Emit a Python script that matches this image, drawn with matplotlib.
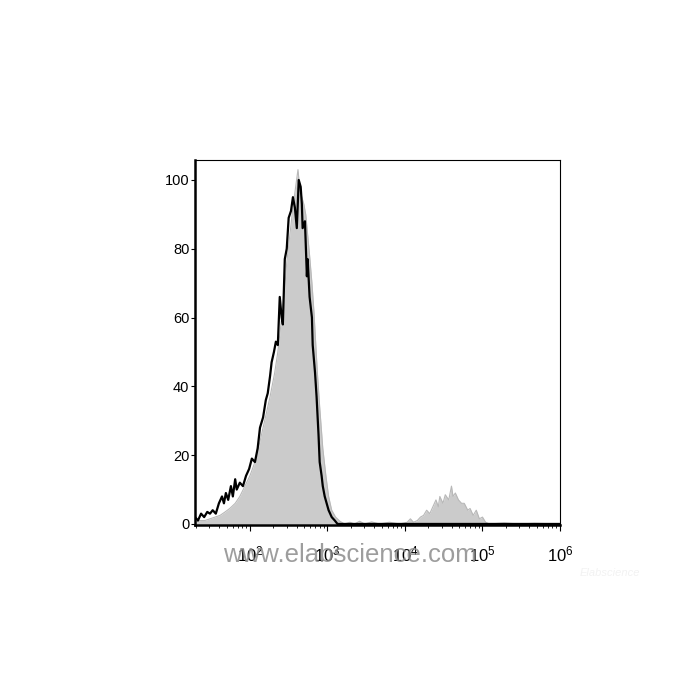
import numpy as np
import matplotlib.pyplot as plt
from matplotlib.ticker import FixedLocator, NullFormatter

# log10 of fluorescence channel, % of max
black_logx = [1.292, 1.33, 1.37, 1.41, 1.45, 1.485, 1.52, 1.56, 1.60, 1.64, 1.665, 1.69,
              1.72, 1.755, 1.78, 1.81, 1.83, 1.87, 1.91, 1.95, 1.99, 2.025, 2.065, 2.10,
              2.13, 2.17, 2.205, 2.23, 2.26, 2.28, 2.31, 2.335, 2.36, 2.385, 2.41, 2.425,
              2.45, 2.475, 2.50, 2.53, 2.555, 2.58, 2.605, 2.63, 2.655, 2.67, 2.68, 2.71,
              2.735, 2.745, 2.77, 2.80, 2.81, 2.84, 2.86, 2.885, 2.90, 2.925, 2.94, 2.965,
              2.99, 3.015, 3.055, 3.095, 3.13, 6.0]
black_y = [2, 1, 3, 2, 3.5, 3, 4, 3, 6, 8, 6, 9,
           7, 11, 8, 13, 10, 12, 11, 14, 16, 19, 18, 22,
           28, 31, 36, 38, 43, 47, 50, 53, 52, 66, 60, 58,
           77, 80, 89, 91, 95, 92, 86, 100, 98, 93, 86, 88,
           72, 77, 66, 60, 52, 44, 37, 26, 18, 14, 11, 8,
           6, 4, 2, 1, 0, 0]

grey_logx = [1.292, 1.36, 1.42, 1.485, 1.55, 1.615, 1.68, 1.74, 1.81, 1.87, 1.935, 2.00,
             2.065, 2.13, 2.19, 2.26, 2.32, 2.36, 2.40, 2.44, 2.475, 2.515, 2.555, 2.59,
             2.62, 2.645, 2.67, 2.695, 2.72, 2.745, 2.77, 2.80, 2.825, 2.85, 2.87, 2.90,
             2.94, 2.98, 3.015, 3.055, 3.105, 3.16, 3.22, 3.29, 3.35, 3.415, 3.48, 3.57,
             3.67, 3.80, 3.93, 4.03, 4.07, 4.11, 4.16, 4.20, 4.24, 4.28, 4.32, 4.36,
             4.40, 4.43, 4.45, 4.49, 4.52, 4.565, 4.60, 4.62, 4.65, 4.69, 4.73, 4.765,
             4.81, 4.84, 4.88, 4.92, 4.96, 5.00, 5.04, 5.09, 5.28, 5.47, 5.67, 6.0]
grey_y = [0.5, 1, 1, 1.5, 2, 2.5, 3.5, 4.5, 6, 8, 11, 14,
          18, 24, 30, 37, 44, 50, 58, 66, 76, 84, 92, 98,
          103, 97, 95, 93, 90, 84, 78, 70, 62, 52, 44, 34,
          22, 14, 8, 4, 2, 0.8, 0, 0.5, 0, 0.8, 0, 0.6,
          0, 0.5, 0, 0.5, 1.5, 0.5, 1, 2, 2.5, 4, 3, 5,
          7, 5, 8, 6, 8.5, 7, 11, 8, 9, 7, 6, 6,
          4, 4.5, 2.5, 4, 1.5, 2, 0.5, 0, 0.3, 0, 0.2, 0]

y_ticks = [0, 20, 40, 60, 80, 100]
x_decades = [2, 3, 4, 5, 6]

plt.rcParams['font.family'] = ['Liberation Sans', 'DejaVu Sans']
plt.rcParams['mathtext.fontset'] = 'custom'
plt.rcParams['mathtext.rm'] = 'Liberation Sans'
plt.rcParams['mathtext.it'] = 'Liberation Sans'

fig = plt.figure(figsize=(7, 7), dpi=100)
ax = fig.add_axes([0.2786, 0.25, 0.5214, 0.5214])

gx = 10 ** np.array(grey_logx)
bx = 10 ** np.array(black_logx)
ax.fill_between(gx, grey_y, 0, color='#cbcbcb', lw=0)
ax.plot(gx, grey_y, color='#b8b8b8', lw=0.8)
ax.plot(bx, black_y, color='black', lw=1.6)

ax.set_xscale('log')
ax.set_xlim(10 ** 1.292, 10 ** 6.0)
ax.set_ylim(-0.3, 105.8)

ax.set_yticks(y_ticks)
ax.set_yticklabels([str(v) for v in y_ticks], fontsize=10.5)
ax.set_xticks([10 ** d for d in x_decades])
ax.set_xticklabels([f'$\\mathregular{{10^{{{d}}}}}$' for d in x_decades], fontsize=12)
minor = [k * 10 ** d for d in range(1, 6) for k in range(2, 10)]
ax.xaxis.set_minor_locator(FixedLocator(minor))
ax.xaxis.set_minor_formatter(NullFormatter())
ax.tick_params(axis='y', length=3, width=0.8, pad=1)
ax.tick_params(axis='x', which='major', length=4, width=0.8, pad=10)
ax.tick_params(axis='x', which='minor', length=2, width=0.6)

for s in ['top', 'right']:
    ax.spines[s].set_linewidth(0.8)
ax.spines['left'].set_linewidth(1.8)
ax.spines['bottom'].set_linewidth(1.8)

fig.text(0.5, 0.207, 'www.elabscience.com', color='#8c8c8c', fontsize=18.5,
         ha='center', va='center', alpha=0.85)
fig.text(0.872, 0.182, 'Elabscience', color='#f2f2f2', fontsize=8,
         ha='center', va='center', style='italic')

fig.savefig('out.png', dpi=100)
